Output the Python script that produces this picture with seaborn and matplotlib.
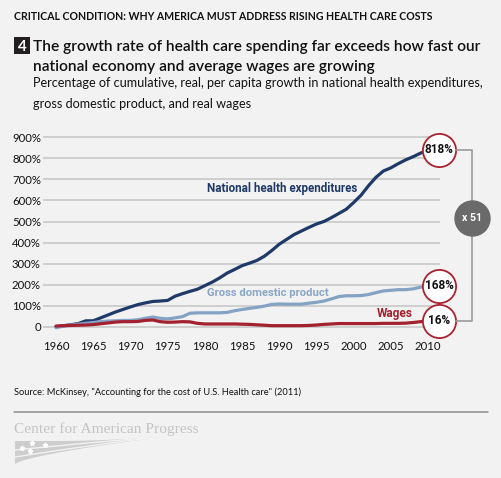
import numpy as np
import pandas as pd
import matplotlib
matplotlib.use("Agg")
import matplotlib.pyplot as plt
import seaborn as sns
from matplotlib import font_manager as fm
from matplotlib.lines import Line2D
from matplotlib.patches import Rectangle, Polygon

# ---------------- data ----------------
years = list(range(1960, 2011))
nhe = [0, 5, 9, 15, 28, 28, 42, 56, 70, 82,
       94, 105, 113, 120, 122, 125, 145, 157, 168, 178,
       195, 212, 232, 255, 272, 290, 302, 315, 335, 362,
       392, 415, 438, 455, 472, 488, 500, 518, 538, 558,
       590, 625, 670, 710, 740, 755, 775, 793, 808, 825,
       840]
gdp = [-5, 3, 8, 12, 16, 20, 24, 27, 28, 30,
       30, 33, 40, 46, 40, 37, 42, 48, 64, 66,
       66, 66, 66, 68, 76, 82, 87, 92, 98, 106,
       108, 107, 107, 107, 112, 116, 122, 132, 143, 147,
       147, 148, 153, 162, 170, 173, 176, 176, 180, 188,
       195]
wages = [3, 5, 6, 7, 8, 10, 14, 18, 22, 24,
         24, 25, 30, 32, 24, 21, 22, 24, 23, 16,
         13, 13, 13, 13, 13, 12, 11, 9, 7, 5,
         5, 5, 5, 5, 6, 8, 11, 13, 15, 15,
         15, 15, 15, 15, 16, 16, 16, 17, 20, 24,
         28]
series_names = ["National health expenditures", "Gross domestic product", "Wages"]
end_labels = ["818%", "168%", "16%"]
ratio_label = "x 51"
y_ticks = [0, 100, 200, 300, 400, 500, 600, 700, 800, 900]
y_tick_labels = ["0", "100%", "200%", "300%", "400%", "500%", "600%", "700%", "800%", "900%"]
x_ticks = [1960, 1965, 1970, 1975, 1980, 1985, 1990, 1995, 2000, 2005, 2010]

header = "CRITICAL CONDITION: WHY AMERICA MUST ADDRESS RISING HEALTH CARE COSTS"
fig_number = "4"
title_lines = ["The growth rate of health care spending far exceeds how fast our",
               "national economy and average wages are growing"]
subtitle_lines = ["Percentage of cumulative, real, per capita growth in national health expenditures,",
                  "gross domestic product, and real wages"]
source = "Source: McKinsey, \"Accounting for the cost of U.S. Health care\" (2011)"
logo = "Center for American Progress"

# ---------------- style ----------------
W, H = 501, 478
BG = "#f2f2f2"
colors = {"National health expenditures": "#1f3a68",
          "Gross domestic product": "#84a2c4",
          "Wages": "#a3202f"}
label_colors = ["#1f3a68", "#8aa6c6", "#a3202f"]

sns.set_theme(style="white")
plt.rcParams['font.family'] = ['Lato', 'DejaVu Sans']


def has_font(name):
    try:
        fm.findfont(fm.FontProperties(family=name), fallback_to_default=False)
        return True
    except Exception:
        return False


NARROW = 'Liberation Sans Narrow' if has_font('Liberation Sans Narrow') else 'Roboto'
SERIF = 'Liberation Serif' if has_font('Liberation Serif') else 'DejaVu Serif'

fig = plt.figure(figsize=(W / 100, H / 100), dpi=100, facecolor=BG)
renderer = fig.canvas.get_renderer()


def fx(x):
    return x / W


def fy(y):
    return 1 - y / H


def fit(t, target_px):
    bb = t.get_window_extent(renderer=renderer)
    if bb.width > 0:
        t.set_fontsize(t.get_fontsize() * target_px / bb.width)
    return t.get_fontsize()


# axes: gridlines from x=43..440 px, y from 130..335 px
ax = fig.add_axes([fx(43), fy(335), (440 - 43) / W, (335 - 130) / H])
ax.set_facecolor('none')

df = pd.DataFrame({
    "year": years * 3,
    "value": nhe + gdp + wages,
    "series": [series_names[0]] * len(years) + [series_names[1]] * len(years) + [series_names[2]] * len(years),
})
sns.lineplot(data=df, x="year", y="value", hue="series", hue_order=series_names,
             palette=colors, linewidth=2.3, legend=False, ax=ax, zorder=3)

ax.set_xlim(1958.25, 2011.61)
ax.set_ylim(-39.4, 934.9)
ax.set_yticks(y_ticks)
ax.set_yticklabels(y_tick_labels)
ax.set_xticks(x_ticks)
ax.set_xticklabels([str(x) for x in x_ticks])
ax.yaxis.grid(True, color="#c9c9c9", linewidth=1.2)
ax.xaxis.grid(False)
ax.set_axisbelow(True)
for s in ax.spines.values():
    s.set_visible(False)
ax.tick_params(axis='y', length=0, pad=1.5, labelsize=8.2, labelcolor="#111111")
ax.tick_params(axis='x', length=0, pad=4.5, labelsize=8.2, labelcolor="#111111")
ax.set_xlabel("")
ax.set_ylabel("")

# series labels
lab_pos = [(1980.3, 659, 151), (1980.3, 162, 122), (2003.1, 64, 36)]
for name, (lx, ly, wpx), c in zip(series_names, lab_pos, label_colors):
    t = ax.text(lx, ly, name, color=c, fontweight='bold', family=NARROW,
                ha='left', va='center', fontsize=10)
    fit(t, wpx)

# end circles
end_vals = [nhe[-1], gdp[-1], wages[-1]]
cx = years[-1] + 1.5
circ_fs = None
for val, lab in zip(end_vals, end_labels):
    ax.scatter([cx], [val], s=570, facecolor='white', edgecolor='#a8232f',
               linewidth=1.3, zorder=6, clip_on=False)
    t = ax.text(cx, val, lab, ha='center', va='center', fontweight='bold',
                family=NARROW, fontsize=10, color='#111111', zorder=7, clip_on=False)
    if circ_fs is None:
        circ_fs = fit(t, 29)
    else:
        t.set_fontsize(circ_fs)

# bracket + ratio circle
bx = 472
fig.add_artist(Line2D([fx(456), fx(bx), fx(bx), fx(456)], [fy(150), fy(150), fy(321), fy(321)],
                      color="#9a9a9a", linewidth=1.2, zorder=1))
fig.add_artist(Line2D([fx(bx)], [fy(218)], marker='o', markersize=35 * 0.72,
                      markerfacecolor="#6a6a6a", markeredgecolor="#6a6a6a", zorder=2))
t = fig.text(fx(bx), fy(218), ratio_label, ha='center', va='center', color='white',
             fontweight='bold', family=NARROW, fontsize=9, zorder=3)
fit(t, 20)

# header
t = fig.text(fx(14), fy(20), header, ha='left', va='baseline', fontweight='bold',
             fontsize=7, color='#111111')
fit(t, 421)

# number box
fig.add_artist(Rectangle((fx(14), fy(53.5)), 16.5 / W, 16.5 / H, transform=fig.transFigure,
                         facecolor='#231f20', edgecolor='none'))
fig.text(fx(22.3), fy(50.7), fig_number, ha='center', va='baseline', color='white',
         fontweight='bold', fontsize=11)

# title
t1 = fig.text(fx(33), fy(50.7), title_lines[0], ha='left', va='baseline', fontweight='semibold',
              fontsize=12, color='#111111')
tfs = fit(t1, 448)
fig.text(fx(33), fy(70.5), title_lines[1], ha='left', va='baseline', fontweight='semibold',
         fontsize=tfs, color='#111111')

# subtitle
s1 = fig.text(fx(33), fy(87), subtitle_lines[0], ha='left', va='baseline',
              fontsize=9, color='#111111')
sfs = fit(s1, 452)
fig.text(fx(33), fy(107.5), subtitle_lines[1], ha='left', va='baseline',
         fontsize=sfs, color='#111111')

# source
t = fig.text(fx(14), fy(395), source, ha='left', va='baseline', fontsize=7, color='#111111')
fit(t, 286)

# rule
fig.add_artist(Line2D([fx(14), fx(488)], [fy(411.5), fy(411.5)], color="#8c8c8c", linewidth=1.1))

# logo
t = fig.text(fx(14), fy(433), logo, ha='left', va='baseline', family=SERIF,
             fontsize=11, color='#c4c4c4')
fit(t, 183)
tt = np.linspace(0, 1, 30)
top_x = 15 + 148 * tt
top_y = 441 - 4 * tt + 1.5 * np.sin(np.pi * tt)
bot_x = 15 + 148 * tt[::-1]
bot_y = 464 - 27 * (tt[::-1] ** 0.7)
poly_x = np.concatenate([top_x, bot_x])
poly_y = np.concatenate([top_y, bot_y])
fig.add_artist(Polygon(np.column_stack([fx(poly_x), fy(poly_y)]), closed=True,
                       transform=fig.transFigure, facecolor='#cdcdcd', edgecolor='none'))
for off in [9, 16]:
    sx = 15 + 148 * tt
    sy = 441 + off * (1 - tt) ** 1.2 - 4 * tt
    fig.add_artist(Line2D(fx(sx), fy(sy), color=BG, linewidth=1.0))
fig.add_artist(Line2D([fx(22), fx(32), fx(45), fx(30)], [fy(448), fy(443), fy(445), fy(451)],
                      linestyle='none', marker=(5, 1), markersize=3.5, color='white'))

fig.savefig("out.png", dpi=100, facecolor=BG)
